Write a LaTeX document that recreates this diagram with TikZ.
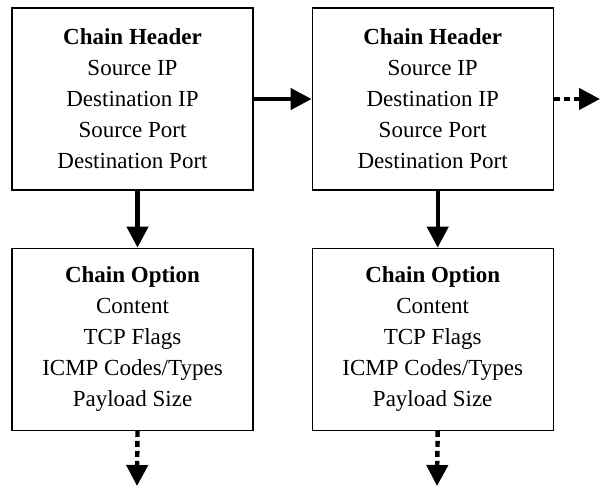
\documentclass[tikz,border=0pt]{standalone}
\usepackage{fontspec}
\setmainfont{Liberation Serif}
\usetikzlibrary{arrows.meta,positioning}
\tikzset{
  chainbox/.style={draw, line width=0.6pt, minimum width=120.5pt, minimum height=91pt,
    inner sep=0pt, align=center, font=\fontsize{11.5}{15.5}\selectfont},
  link/.style={line width=2.2pt, -{Triangle[length=10.5pt,width=10.5pt]}},
  nextlink/.style={link, dash pattern=on 3pt off 2pt},
}
\begin{document}
\begin{tikzpicture}[x=0.5pt,y=-0.5pt]
  %%%%% START %%%%%
  \useasboundingbox (0,0) rectangle (600,487);

  \node[chainbox] (hdrA) at (132.5,99)
    {\textbf{Chain Header}\\Source IP\\Destination IP\\Source Port\\Destination Port};
  \node[chainbox, right=29pt of hdrA] (hdrB)
    {\textbf{Chain Header}\\Source IP\\Destination IP\\Source Port\\Destination Port};
  \node[chainbox, below=28.5pt of hdrA] (optA)
    {\textbf{Chain Option}\\Content\\TCP Flags\\ICMP Codes/Types\\Payload Size};
  \node[chainbox, below=28.5pt of hdrB] (optB)
    {\textbf{Chain Option}\\Content\\TCP Flags\\ICMP Codes/Types\\Payload Size};

  \coordinate (nextB) at (600,99);
  \coordinate (nextA) at (137,486);
  \coordinate (nextC) at (437,486);

  \draw[link] (hdrA) -- (hdrB);
  \draw[link] ([xshift=2.5pt]hdrA.south) -- ([xshift=2.5pt]optA.north);
  \draw[link] ([xshift=2.5pt]hdrB.south) -- ([xshift=2.5pt]optB.north);

  \draw[nextlink] (hdrB.east) -- (nextB);
  \draw[nextlink] ([xshift=2.5pt]optA.south) -- (nextA);
  \draw[nextlink] ([xshift=2.5pt]optB.south) -- (nextC);
  %%%%% END %%%%%
\end{tikzpicture}
\end{document}
